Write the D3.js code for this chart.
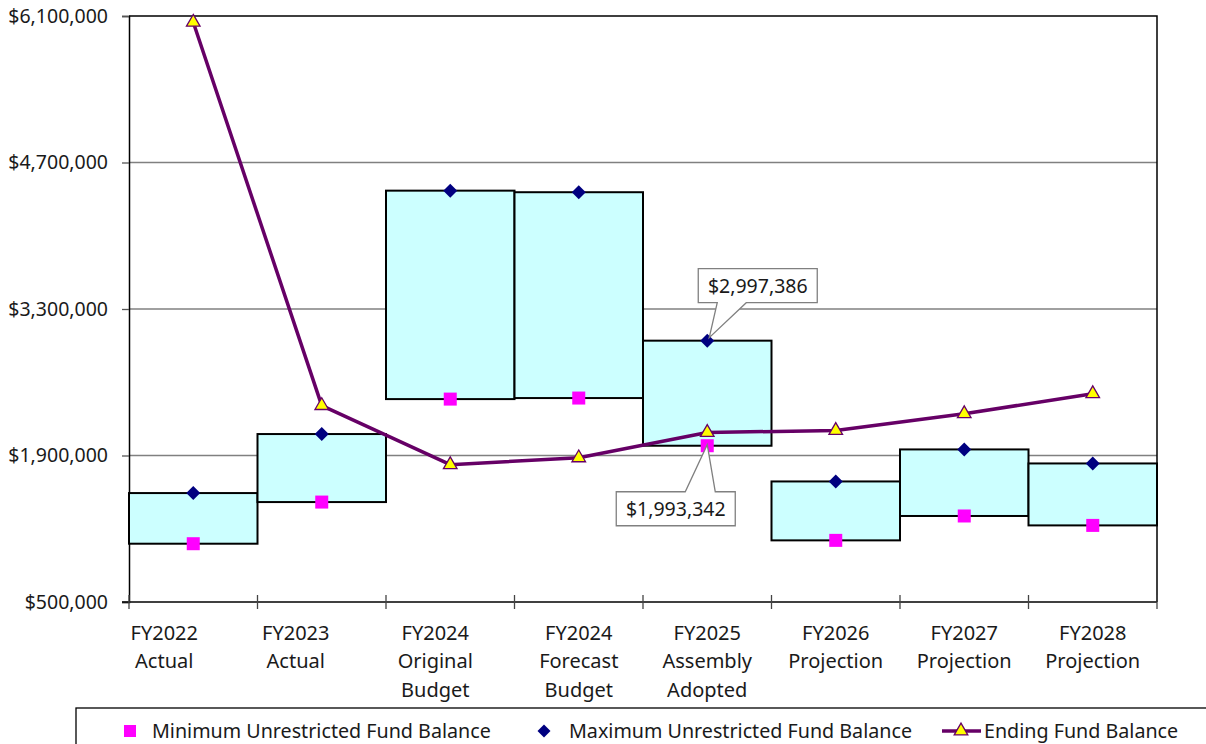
<!DOCTYPE html>
<html>
<head>
<meta charset="utf-8">
<script src="https://cdn.jsdelivr.net/npm/d3@7"></script>
<style>
  html, body { margin: 0; padding: 0; background: #fff; }
  svg { display: block; font-family: "Noto Sans", "Open Sans", sans-serif; }
</style>
</head>
<body>
<svg id="chart" width="1206" height="744"></svg>
<script>
// ---- data ----
const categories = [
  ["FY2022", "Actual"],
  ["FY2023", "Actual"],
  ["FY2024", "Original", "Budget"],
  ["FY2024", "Forecast", "Budget"],
  ["FY2025", "Assembly", "Adopted"],
  ["FY2026", "Projection"],
  ["FY2027", "Projection"],
  ["FY2028", "Projection"]
];
const minBalance    = [1057000, 1455000, 2439000, 2449000, 1993342, 1089000, 1322000, 1232000];
const maxBalance    = [1541000, 2105000, 4431000, 4416000, 2997386, 1652000, 1958000, 1824000];
const endingBalance = [6040000, 2377000, 1812000, 1878000, 2120000, 2139000, 2299000, 2490000];
const yTicks = [500000, 1900000, 3300000, 4700000, 6100000];
const seriesNames = ["Minimum Unrestricted Fund Balance", "Maximum Unrestricted Fund Balance", "Ending Fund Balance"];
const callouts = [
  { series: "max", index: 4 },
  { series: "min", index: 4 }
];

// ---- layout / style ----
const W = 1206, H = 744;
const plot = { left: 129, right: 1157, top: 16, bottom: 602 };
const labelNudge = [-29, -26, -15, 0, 0, 0, 0, 0];
const C = {
  box: "#CCFFFF", line: "#660066", tri: "#FFFF00",
  diamond: "#000080", square: "#FF00FF", grid: "#808080", text: "#1a1a1a"
};
const FS = 19;

const svg = d3.select("#chart");
const keys = categories.map((c, i) => "c" + i);

const x = d3.scaleBand().domain(keys).range([plot.left, plot.right]).padding(0);
const y = d3.scaleLinear().domain([500000, 6100000]).range([plot.bottom, plot.top]);
const cx = i => x(keys[i]) + x.bandwidth() / 2;

// gridlines
svg.append("g")
  .selectAll("line")
  .data(yTicks.filter(t => t > 500000 && t < 6100000))
  .join("line")
  .attr("x1", plot.left).attr("x2", plot.right)
  .attr("y1", d => y(d)).attr("y2", d => y(d))
  .attr("stroke", C.grid).attr("stroke-width", 1.3);

// plot border (top & right)
svg.append("path")
  .attr("d", `M${plot.left},${y(6100000)}H${plot.right}V${plot.bottom}`)
  .attr("fill", "none").attr("stroke", "#000").attr("stroke-width", 1.5);

// Y axis
const fmt = d3.format(",");
const yAxis = svg.append("g")
  .attr("transform", `translate(${plot.left},0)`)
  .call(d3.axisLeft(y).tickValues(yTicks).tickSize(7).tickPadding(14).tickFormat(d => "$" + fmt(d)));
yAxis.select(".domain").attr("stroke", "#000").attr("stroke-width", 1.5);
yAxis.selectAll(".tick line").attr("stroke", "#555").attr("stroke-width", 1.3);
yAxis.selectAll(".tick text").attr("font-size", 19.5).attr("fill", C.text)
  .attr("font-family", "'Noto Sans', sans-serif");

// X axis line + boundary ticks
svg.append("line")
  .attr("x1", plot.left - 7).attr("x2", plot.right)
  .attr("y1", plot.bottom).attr("y2", plot.bottom)
  .attr("stroke", "#000").attr("stroke-width", 1.5);
const bounds = keys.map(k => x(k)).concat([x(keys[keys.length - 1]) + x.bandwidth()]);
svg.append("g").selectAll("line").data(bounds).join("line")
  .attr("x1", d => d).attr("x2", d => d)
  .attr("y1", plot.bottom - 7).attr("y2", plot.bottom + 7)
  .attr("stroke", "#444").attr("stroke-width", 1.3);

// X labels
const xl = svg.append("g").selectAll("text").data(categories).join("text")
  .attr("x", (d, i) => cx(i) + labelNudge[i])
  .attr("y", 640)
  .attr("text-anchor", "middle")
  .attr("font-size", FS + 1)
  .attr("fill", C.text);
xl.each(function(d, i) {
  d3.select(this).selectAll("tspan").data(d).join("tspan")
    .attr("x", cx(i) + labelNudge[i])
    .attr("dy", (t, j) => j === 0 ? 0 : 28.3)
    .text(t => t);
});

// range boxes
svg.append("g").selectAll("rect").data(keys).join("rect")
  .attr("x", k => x(k))
  .attr("width", x.bandwidth())
  .attr("y", (k, i) => y(maxBalance[i]))
  .attr("height", (k, i) => y(minBalance[i]) - y(maxBalance[i]))
  .attr("fill", C.box)
  .attr("stroke", "#000").attr("stroke-width", 2);

// min squares
const sq = 13;
svg.append("g").selectAll("rect").data(minBalance).join("rect")
  .attr("x", (d, i) => cx(i) - sq / 2)
  .attr("y", d => y(d) - sq / 2)
  .attr("width", sq).attr("height", sq)
  .attr("fill", C.square);

// max diamonds
const diamond = (r) => `M0,${-r}L${r},0L0,${r}L${-r},0Z`;
svg.append("g").selectAll("path").data(maxBalance).join("path")
  .attr("transform", (d, i) => `translate(${cx(i)},${y(d)})`)
  .attr("d", diamond(7))
  .attr("fill", C.diamond);

// ending line
const lineGen = d3.line().x((d, i) => cx(i)).y(d => y(d));
svg.append("path")
  .datum(endingBalance)
  .attr("d", lineGen)
  .attr("fill", "none")
  .attr("stroke", C.line).attr("stroke-width", 3.5)
  .attr("stroke-linejoin", "round");

const tri = d3.symbol().type(d3.symbolTriangle).size(80);
svg.append("g").selectAll("path").data(endingBalance).join("path")
  .attr("transform", (d, i) => `translate(${cx(i)},${y(d)})`)
  .attr("d", tri)
  .attr("fill", C.tri)
  .attr("stroke", C.line).attr("stroke-width", 1.3);

// callouts
function callout(px, py, bx, by, bw, bh, wl, wr, label, below) {
  let d;
  if (!below) {
    d = `M${bx},${by}H${bx + bw}V${by + bh}H${wr}L${px},${py}L${wl},${by + bh}H${bx}Z`;
  } else {
    d = `M${bx},${by}H${wl}L${px},${py}L${wr},${by}H${bx + bw}V${by + bh}H${bx}Z`;
  }
  svg.append("path").attr("d", d)
    .attr("fill", "#fff").attr("stroke", "#808080").attr("stroke-width", 1.3);
  svg.append("text")
    .attr("x", bx + bw / 2).attr("y", by + bh / 2 + 7)
    .attr("text-anchor", "middle")
    .attr("font-size", 19.5).attr("fill", C.text)
    .text(label);
}
callouts.forEach(c => {
  const i = c.index;
  const v = c.series === "max" ? maxBalance[i] : minBalance[i];
  const px = cx(i), py = y(v);
  const label = "$" + fmt(v);
  if (c.series === "max") {
    callout(px + 2, py - 3, px - 9, py - 72, 119, 34, px + 10, px + 39, label, false);
  } else {
    callout(px, py - 1, px - 91, py + 46, 119, 34, px - 22, px + 8, label, true);
  }
});

// legend
const lg = svg.append("g");
lg.append("rect").attr("x", 76).attr("y", 708).attr("width", 1200).attr("height", 60)
  .attr("fill", "#fff").attr("stroke", "#000").attr("stroke-width", 1.3);
const ly = 731;
lg.append("rect").attr("x", 124).attr("y", ly - 6).attr("width", 12).attr("height", 12).attr("fill", C.square);
lg.append("path").attr("transform", `translate(544,${ly})`).attr("d", diamond(6.5)).attr("fill", C.diamond);
lg.append("line").attr("x1", 942).attr("x2", 981).attr("y1", ly).attr("y2", ly)
  .attr("stroke", C.line).attr("stroke-width", 3.5);
lg.append("path").attr("transform", `translate(961,${ly})`).attr("d", tri)
  .attr("fill", C.tri).attr("stroke", C.line).attr("stroke-width", 1.3);
const lx = [152, 569, 984];
lg.selectAll("text.lt").data(seriesNames).join("text")
  .attr("class", "lt")
  .attr("x", (d, i) => lx[i]).attr("y", ly + 7)
  .attr("font-size", 19.7).attr("fill", C.text)
  .text(d => d);
</script>
</body>
</html>
